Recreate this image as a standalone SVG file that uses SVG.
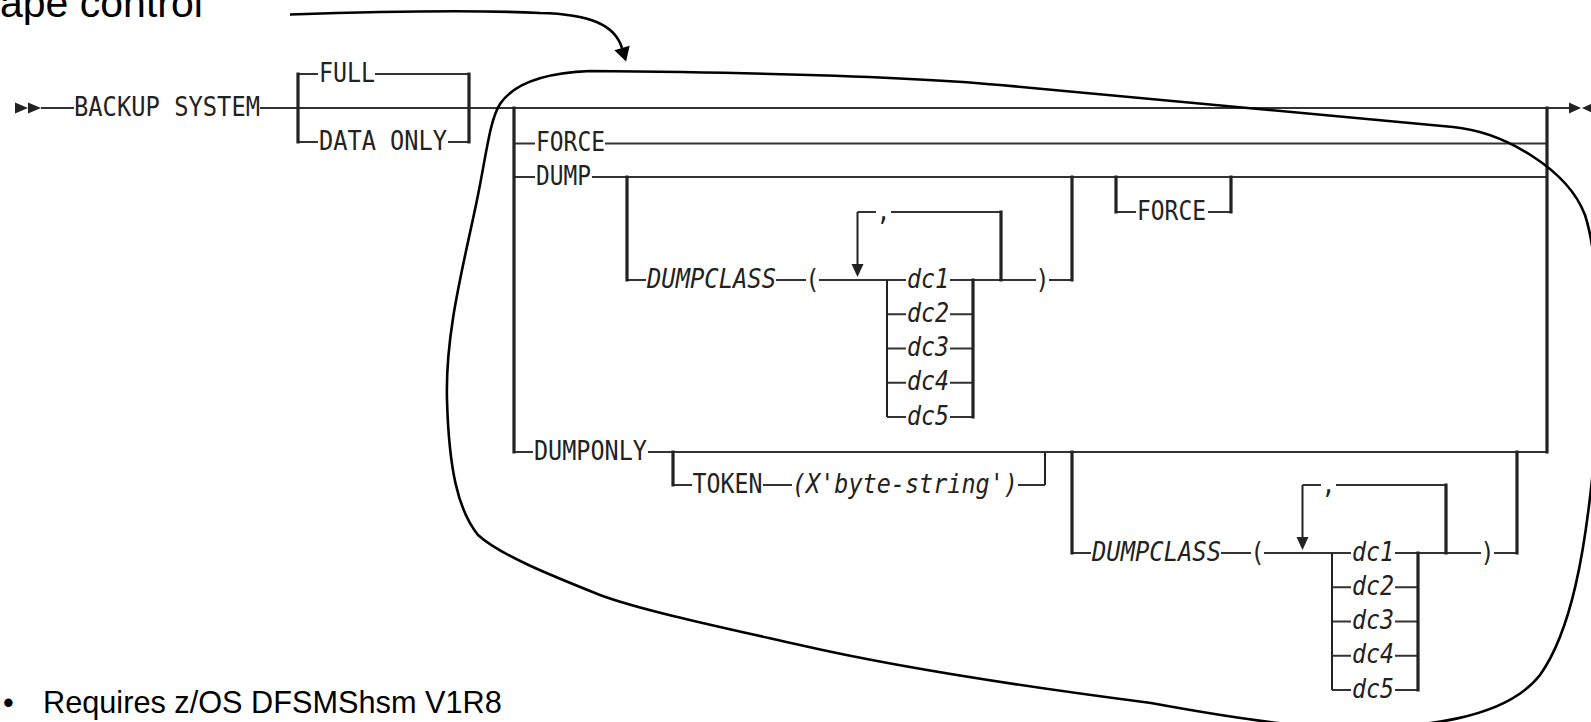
<svg xmlns="http://www.w3.org/2000/svg" width="1591" height="722" viewBox="0 0 1591 722">
  <defs>
    <style>
      .h{stroke:#333;stroke-width:2;fill:none}
      .v{stroke:#222;stroke-width:3.2;fill:none;stroke-linecap:square}
      .vt{stroke:#222;stroke-width:2;fill:none}
      .t{font-family:"DejaVu Sans Mono",monospace;font-size:27px;fill:#222}
      .i{font-style:italic}
      .ann{font-family:"Liberation Sans",Arial,sans-serif;fill:#000}
      .ink{stroke:#000;stroke-width:2.6;fill:none}
      .tri{fill:#222}
    </style>
    <marker id="arrowhead" markerUnits="userSpaceOnUse" markerWidth="16" markerHeight="18" viewBox="0 -9 15 18" refX="0" refY="0" orient="auto">
      <path d="M0,-8 L14,0 L0,8 Z" fill="#000"/>
    </marker>
  </defs>
  <rect width="1591" height="722" fill="#fff"/>

  <!-- slide heading and footnote -->
  <g id="heading">
    <text class="ann" x="0" y="17" font-size="41">ape control</text>
  </g>
  <g id="footnote">
    <text class="ann" x="3" y="713" font-size="30.7">•</text>
    <text class="ann" x="43" y="713" font-size="30.7">Requires z/OS DFSMShsm V1R8</text>
  </g>

  <!-- syntax rails -->
  <g id="connectors">
    <path class="h" d="M41,108H74M260,108H1570
      M298,74H318M375,74H469
      M298,142H318M448,142H469
      M514,143.5H535M605,143.5H1547
      M514,177H535M592,177H1547
      M627,280H646M776,280H806M819,280H906M950,280H1036M1049,280H1072
      M857.5,212H876M891,212H1001
      M887,314.25H906M950,314.25H973
      M887,348.5H906M950,348.5H973
      M887,382.75H906M950,382.75H973
      M887,417H906M950,417H973
      M1116,212H1136M1208,212H1231
      M514,452H533M648,452H1547
      M673,485H692M763,485H792M1018,485H1045
      M1072,553H1091M1221,553H1251M1264,553H1351M1395,553H1481M1494,553H1517
      M1302.5,485H1321M1336,485H1446
      M1332,587.25H1351M1395,587.25H1418
      M1332,621.5H1351M1395,621.5H1418
      M1332,655.75H1351M1395,655.75H1418
      M1332,690H1351M1395,690H1418"/>
    <path class="v" d="M298,74V142M469,74V142
      M514,108V452M1547,108V452
      M627,177V280M1072,177V280
      M973,280V417M1001,212V280
      M1116,177V212M1231,177V212
      M673,452V485
      M1072,452V553M1517,452V553
      M1418,553V690M1446,485V553"/>
    <path class="vt" d="M887,280V417M1045,452V485M1332,553V690M857.5,212V265M1302.5,485V538"/>
    <polygon class="tri" points="15,102.5 28,108 15,113.5"/>
    <polygon class="tri" points="28,102.5 41,108 28,113.5"/>
    <polygon class="tri" points="1569,102.5 1581,108 1569,113.5"/>
    <polygon class="tri" points="1594,102.5 1582,108 1594,113.5"/>
    <polygon class="tri" points="851.5,264 863.5,264 857.5,277"/>
    <polygon class="tri" points="1296.5,537 1308.5,537 1302.5,550"/>
  </g>

  <g id="backup-system">
    <text class="t" x="74" y="116" textLength="186" lengthAdjust="spacingAndGlyphs">BACKUP SYSTEM</text>
  </g>
  <g id="full">
    <text class="t" x="319" y="82" textLength="56" lengthAdjust="spacingAndGlyphs">FULL</text>
  </g>
  <g id="data-only">
    <text class="t" x="319" y="149.5" textLength="128" lengthAdjust="spacingAndGlyphs">DATA ONLY</text>
  </g>
  <g id="force">
    <text class="t" x="536" y="151" textLength="69" lengthAdjust="spacingAndGlyphs">FORCE</text>
  </g>
  <g id="dump">
    <text class="t" x="536" y="184.5" textLength="55" lengthAdjust="spacingAndGlyphs">DUMP</text>
  </g>
  <g id="dump-dumpclass">
    <text class="t i" x="647" y="287.5" textLength="129" lengthAdjust="spacingAndGlyphs">DUMPCLASS</text>
    <text class="t" x="805.5" y="287.5" textLength="14" lengthAdjust="spacingAndGlyphs">(</text>
    <text class="t" x="876.5" y="219.5" textLength="14" lengthAdjust="spacingAndGlyphs">,</text>
    <text class="t i" x="907" y="287.5" textLength="42" lengthAdjust="spacingAndGlyphs">dc1</text>
    <text class="t i" x="907" y="321.75" textLength="42" lengthAdjust="spacingAndGlyphs">dc2</text>
    <text class="t i" x="907" y="356" textLength="42" lengthAdjust="spacingAndGlyphs">dc3</text>
    <text class="t i" x="907" y="390.25" textLength="42" lengthAdjust="spacingAndGlyphs">dc4</text>
    <text class="t i" x="907" y="424.5" textLength="42" lengthAdjust="spacingAndGlyphs">dc5</text>
    <text class="t" x="1035.5" y="287.5" textLength="14" lengthAdjust="spacingAndGlyphs">)</text>
  </g>
  <g id="dump-force">
    <text class="t" x="1137" y="219.5" textLength="69" lengthAdjust="spacingAndGlyphs">FORCE</text>
  </g>
  <g id="dumponly">
    <text class="t" x="534" y="459.5" textLength="113" lengthAdjust="spacingAndGlyphs">DUMPONLY</text>
  </g>
  <g id="token">
    <text class="t" x="692.5" y="492.5" textLength="70" lengthAdjust="spacingAndGlyphs">TOKEN</text>
    <text class="t i" x="792" y="492.5" textLength="226" lengthAdjust="spacingAndGlyphs">(X'byte-string')</text>
  </g>
  <g id="dumponly-dumpclass">
    <text class="t i" x="1092" y="560.5" textLength="129" lengthAdjust="spacingAndGlyphs">DUMPCLASS</text>
    <text class="t" x="1250.5" y="560.5" textLength="14" lengthAdjust="spacingAndGlyphs">(</text>
    <text class="t" x="1321.5" y="492.5" textLength="14" lengthAdjust="spacingAndGlyphs">,</text>
    <text class="t i" x="1352" y="560.5" textLength="42" lengthAdjust="spacingAndGlyphs">dc1</text>
    <text class="t i" x="1352" y="594.75" textLength="42" lengthAdjust="spacingAndGlyphs">dc2</text>
    <text class="t i" x="1352" y="629" textLength="42" lengthAdjust="spacingAndGlyphs">dc3</text>
    <text class="t i" x="1352" y="663.25" textLength="42" lengthAdjust="spacingAndGlyphs">dc4</text>
    <text class="t i" x="1352" y="697.5" textLength="42" lengthAdjust="spacingAndGlyphs">dc5</text>
    <text class="t" x="1480.5" y="560.5" textLength="14" lengthAdjust="spacingAndGlyphs">)</text>
  </g>

  <!-- hand-drawn emphasis: outline around the optional clause and pointer from the heading -->
  <g id="highlight">
    <path class="ink" d="M447,400 C445,330 465,260 478,195 C487,150 490,120 500,104 C512,86 540,73 590,71 C700,72 895,75.2 1000,85 C1150,99 1300,113 1453,127 C1505,132 1568,170 1585,215 C1600,260 1605,400 1593,470 C1585,550 1572,630 1540,675 C1505,720 1420,728 1345,728 C1290,728 1200,712 1151,703 C1050,690 900,668 800,645 C720,627 640,610 600,595 C550,575 500,555 478,535 C458,510 449,470 447,400 Z"/>
    <path class="ink" d="M290,14.5 C380,11.5 480,10 540,13 C590,14 615,25 622,48" marker-end="url(#arrowhead)"/>
  </g>
</svg>
